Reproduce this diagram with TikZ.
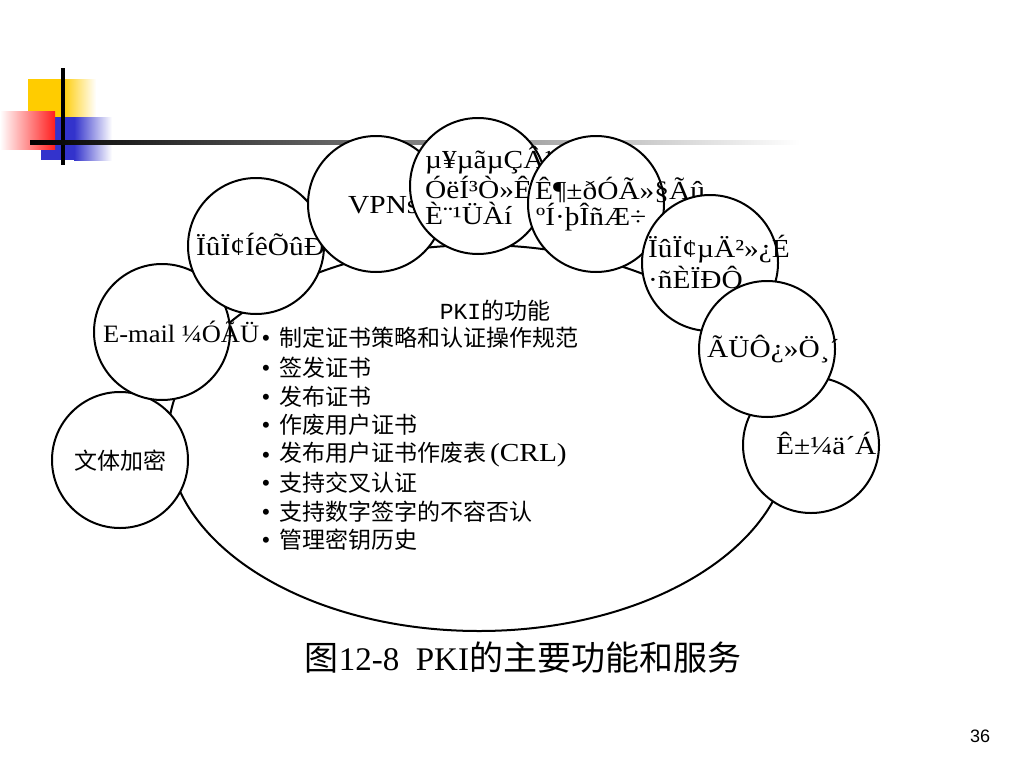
\documentclass[tikz,border=0pt]{standalone}
\usepackage{fontspec}
\setmainfont{Liberation Serif}
\newfontfamily\gfont[FakeStretch=1.13]{Liberation Serif}
\newfontfamily\efont[FakeStretch=1.06]{Liberation Serif}
\newfontfamily\cjk{Noto Sans CJK SC}
\newfontfamily\monof{Liberation Mono}
\newfontfamily\sansf{Liberation Sans}
\usetikzlibrary{shapes.geometric}
\definecolor{logoyellow}{RGB}{255,204,0}
\definecolor{logoblue}{RGB}{51,51,204}
\definecolor{logored}{RGB}{255,30,30}
\begin{document}
\begin{tikzpicture}[x=1pt,y=-1pt,
  bubble/.style={circle, draw, fill=white, line width=2pt, minimum size=136pt, inner sep=0},
  gtext/.style={anchor=west, inner sep=0, font={\gfont\fontsize{26}{30}\selectfont}},
  ltext/.style={anchor=west, inner sep=0, font={\cjk\fontsize{23}{28}\selectfont}},
  bul/.style={anchor=center, inner sep=0, font={\fontsize{25}{28}\selectfont}}]
\fill[white] (0,0) rectangle (1024,768);
\useasboundingbox (0,0) rectangle (1024,768);
% logo
\fill[logoyellow] (28,79) rectangle (62,117);
\shade[left color=logoyellow, right color=white] (62,79) rectangle (96,117);
\fill[logoblue] (41,117) rectangle (74,160);
\shade[left color=logoblue, right color=white] (74,117) rectangle (112,160);
\shade[left color=white, right color=logored] (0,111) rectangle (55,149);
\fill[black] (61,68) rectangle (65,165);
\shade[left color=black, right color=white] (30,140) rectangle (800,144);
% main ellipse
\node[ellipse, draw, line width=2pt, minimum width=622pt, minimum height=386pt, inner sep=0] (main) at (479,438) {};
% bubbles
\node[bubble] (c1) at (120,460) {};
\node[inner sep=0, font={\cjk\fontsize{23}{28}\selectfont}] (t1) at (120,461) {文体加密};
\node[bubble] (c2) at (162,332) {};
\node[anchor=west, inner sep=0, font={\efont\fontsize{25}{30}\selectfont}] (t2) at (103,332) {E-mail ¼ÓÃÜ};
\node[bubble] (c3) at (256,246) {};
\node[gtext] (t3) at (196,244) {ÏûÏ¢ÍêÕûÐÔ};
\node[bubble] (c4) at (376,204) {};
\node[gtext] (t4) at (348,205) {VPNs};
\node[bubble] (c5) at (478,186) {};
\node[gtext] (t5a) at (425,160) {µ¥µãµÇÂ¼};
\node[gtext] (t5b) at (425,187) {ÓëÍ³Ò»ÊÚ};
\node[gtext] (t5c) at (425,213) {È¨¹ÜÀí};
\node[bubble] (c6) at (596,204) {};
\node[gtext] (t6a) at (535,190) {Ê¶±ðÓÃ»§Ãû};
\node[gtext] (t6b) at (536,217) {ºÍ·þÎñÆ÷};
\node[bubble] (c7) at (710,263) {};
\node[gtext] (t7a) at (648,249) {ÏûÏ¢µÄ²»¿É};
\node[gtext] (t7b) at (648,277) {·ñÈÏÐÔ};
\node[bubble] (c9) at (811,445) {};
\node[gtext] (t9) at (776,443) {Ê±¼ä´Á};
\node[bubble] (c8) at (767,349) {};
\node[gtext] (t8) at (707,349) {ÃÜÔ¿»Ö¸´};
% central list
\node[inner sep=0, font={\cjk\fontsize{23}{28}\selectfont}] (title) at (495,311) {{\monof PKI}的功能};
\node[bul] (b1) at (266,341) {•};
\node[ltext] (l1) at (279,338) {制定证书策略和认证操作规范};
\node[bul] (b2) at (266,371) {•};
\node[ltext] (l2) at (279,368) {签发证书};
\node[bul] (b3) at (266,400) {•};
\node[ltext] (l3) at (279,397) {发布证书};
\node[bul] (b4) at (266,428) {•};
\node[ltext] (l4) at (279,425) {作废用户证书};
\node[bul] (b5) at (266,458) {•};
\node[ltext] (l5) at (279,455) {发布用户证书作废表\,{\gfont\fontsize{26}{30}\selectfont(CRL)}};
\node[bul] (b6) at (266,486) {•};
\node[ltext] (l6) at (279,483) {支持交叉认证};
\node[bul] (b7) at (266,515) {•};
\node[ltext] (l7) at (279,512) {支持数字签字的不容否认};
\node[bul] (b8) at (266,543) {•};
\node[ltext] (l8) at (279,540) {管理密钥历史};
% caption
\node[inner sep=0] (cap) at (523,658) {\cjk\fontsize{34}{40}\selectfont 图{\rmfamily\fontsize{33}{40}\selectfont 12-8\ \ PKI}的主要功能和服务};
\node[inner sep=0, font={\sansf\fontsize{18}{22}\selectfont}] (pg) at (980,736) {36};
\end{tikzpicture}
\end{document}
